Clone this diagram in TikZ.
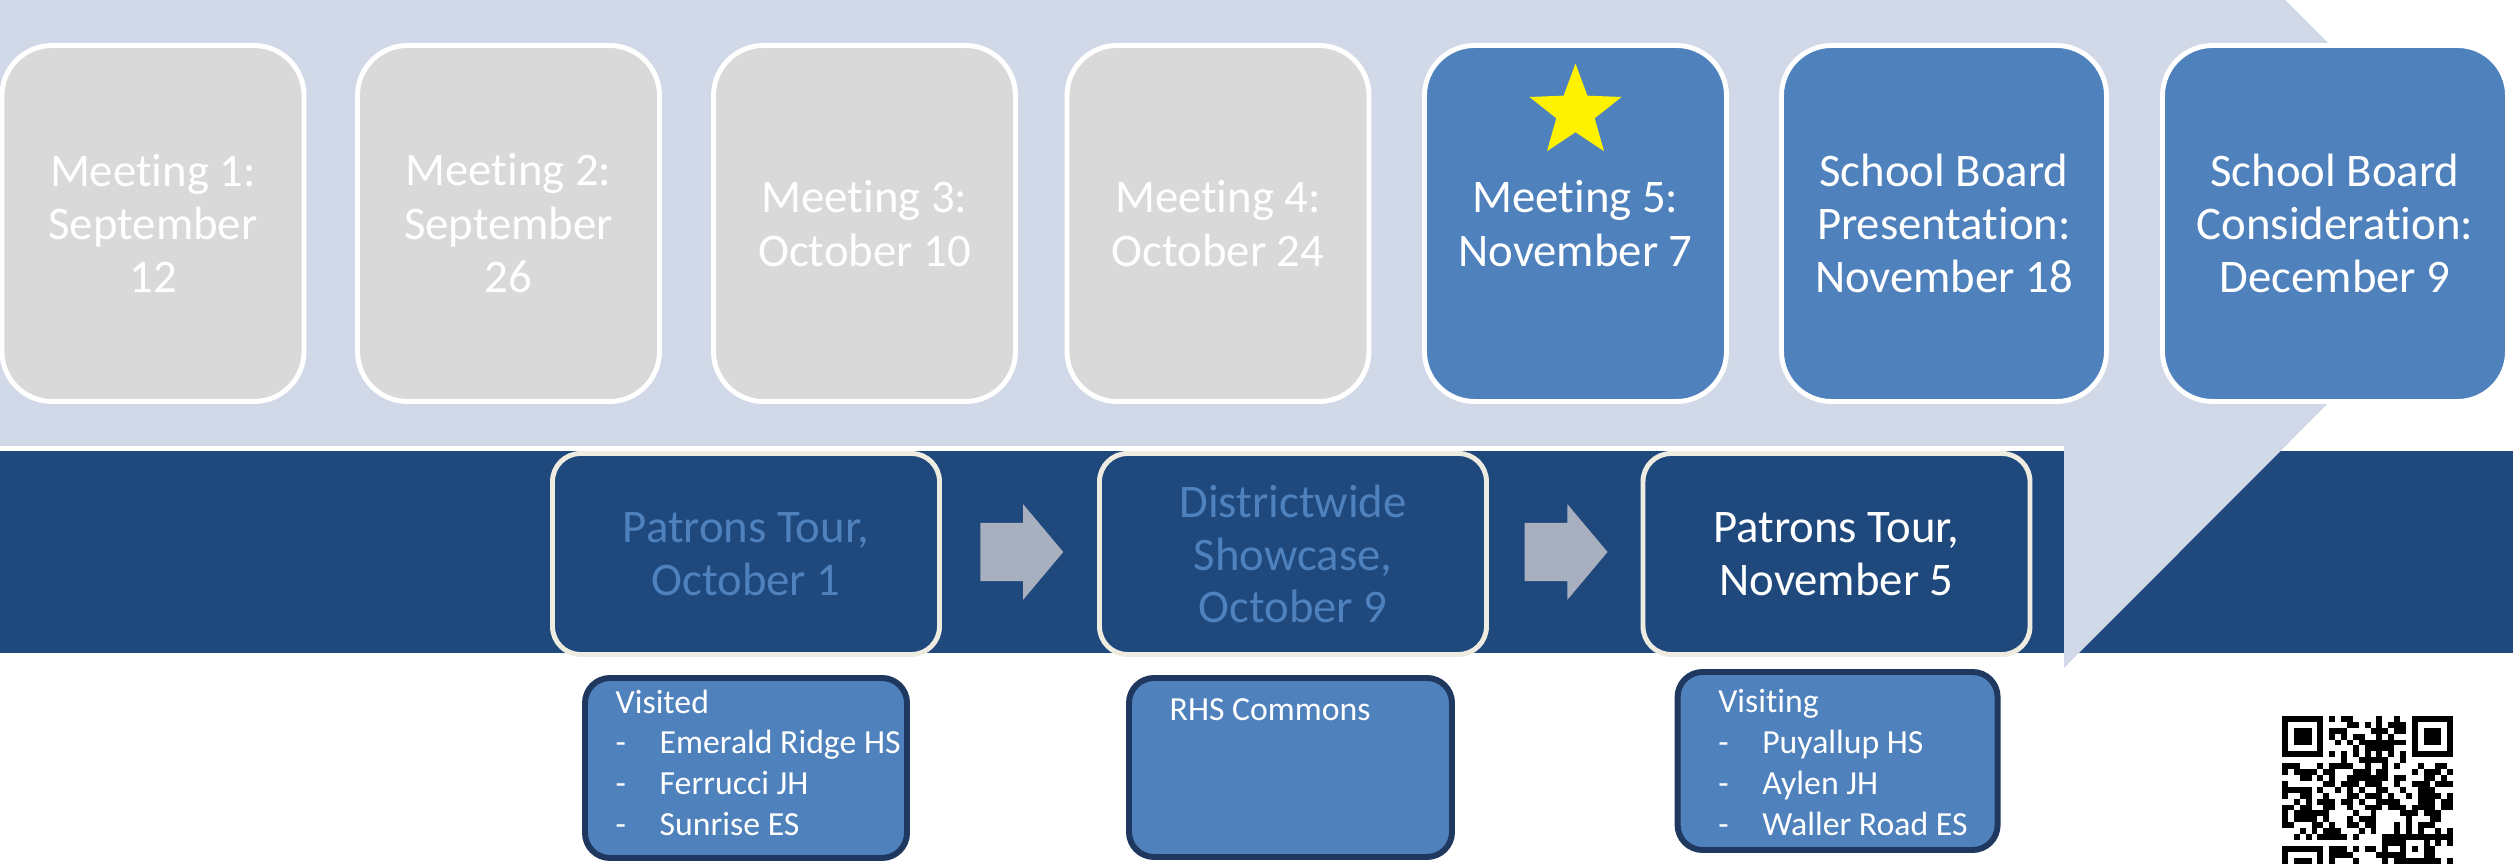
\documentclass[tikz,border=0pt]{standalone}
\usepackage{fontspec}
\setmainfont{Carlito}[Ligatures=NoCommon]
\usetikzlibrary{shapes.geometric,shapes.arrows,calc}

\definecolor{bandlight}{RGB}{209,217,232}
\definecolor{banddark}{RGB}{31,73,125}
\definecolor{boxgrey}{RGB}{217,217,217}
\definecolor{boxblue}{RGB}{79,129,189}
\definecolor{tourline}{RGB}{238,236,225}
\definecolor{noteline}{RGB}{31,56,95}
\definecolor{arrowgrey}{RGB}{168,175,191}

\begin{document}
\begin{tikzpicture}[
    meet/.style={rectangle, draw=white, line width=1.4pt, rounded corners=0.5cm,
                 minimum width=3.02cm, minimum height=3.56cm},
    meettext/.style={white, align=center, font=\fontsize{13.3}{15.2}\selectfont},
    tour/.style={rectangle, draw=tourline, line width=1.4pt, fill=banddark,
                 rounded corners=0.28cm, minimum width=3.87cm, minimum height=2.01cm},
    tourtext/.style={align=center, font=\fontsize{13.3}{15}\selectfont},
    note/.style={rectangle, draw=noteline, line width=1.7pt, fill=boxblue,
                 rounded corners=0.25cm, minimum width=3.22cm, minimum height=1.8cm},
    notetext/.style={anchor=north west, inner sep=0pt, white, align=left,
                     font=\fontsize{9.6}{11.6}\selectfont},
    stepper/.style={single arrow, fill=arrowgrey, inner xsep=0pt, inner ysep=0.285cm,
                    minimum height=0.83cm, single arrow head extend=0.185cm,
                    single arrow tip angle=100}]

    \useasboundingbox (0,0) rectangle (25.13,-8.64);

    % bands
    \fill[banddark] (0,-4.51) rectangle (25.13,-6.53);
    \fill[bandlight] (0,0) -- (22.85,0) -- (25.08,-2.23) -- (20.64,-6.68)
        -- (20.64,-4.46) -- (0,-4.46) -- cycle;

    % meetings
    \node[meet, fill=boxgrey] (m1) at (1.53,-2.235) {};
    \node[meettext] at (m1.center) {Meeting 1:\\September\\12};

    \node[meet, fill=boxgrey] (m2) at (5.085,-2.235) {};
    \node[meettext] at (m2.center) {Meeting 2:\\September\\26};

    \node[meet, fill=boxgrey] (m3) at (8.645,-2.235) {};
    \node[meettext] at (m3.center) {Meeting 3:\\October 10};

    \node[meet, fill=boxgrey] (m4) at (12.18,-2.235) {};
    \node[meettext] at (m4.center) {Meeting 4:\\October 24};

    \node[meet, fill=boxblue] (m5) at (15.755,-2.235) {};
    \node[meettext] at (m5.center) {Meeting 5:\\November 7};
    \node[star, star points=5, star point ratio=2.4, fill=yellow, inner sep=0pt,
          minimum size=0.97cm] (now) at (15.755,-1.12) {};

    \node[meet, fill=boxblue, minimum width=3.25cm] (board1) at (19.44,-2.235) {};
    \node[meettext] at (board1.center) {School Board\\Presentation:\\November 18};

    \node[meet, fill=boxblue, minimum width=3.45cm] (board2) at (23.35,-2.235) {};
    \node[meettext] at (board2.center) {School Board\\Consideration:\\December 9};

    % tours
    \node[tour] (tour1) at (7.46,-5.54) {};
    \node[tourtext, boxblue] at (tour1.center) {Patrons Tour,\\October 1};

    \node[tour] (show) at (12.93,-5.54) {};
    \node[tourtext, boxblue] at (show.center) {Districtwide\\Showcase,\\October 9};

    \node[tour] (tour2) at (18.365,-5.54) {};
    \node[tourtext, white] at (tour2.center) {Patrons Tour,\\November 5};

    \node[stepper] (s1) at ($(tour1.east)!0.5!(show.west)+(-0.1,0.02)$) {};
    \node[stepper] (s2) at ($(show.east)!0.5!(tour2.west)+(-0.11,0.02)$) {};

    % notes
    \node[note] (visited) at (7.46,-7.68) {};
    \node[notetext] at ([xshift=0.33cm,yshift=-0.14cm]visited.north west)
        {Visited\\\makebox[0.44cm][l]{-}Emerald Ridge HS\\
         \makebox[0.44cm][l]{-}Ferrucci JH\\\makebox[0.44cm][l]{-}Sunrise ES};

    \node[note, minimum width=3.23cm, minimum height=1.79cm] (rhs) at (12.905,-7.675) {};
    \node[notetext] at ([xshift=0.43cm,yshift=-0.23cm]rhs.north west) {RHS Commons};

    \node[note, minimum width=3.2cm, minimum height=1.78cm] (visiting) at (18.376,-7.61) {};
    \node[notetext] at ([xshift=0.43cm,yshift=-0.2cm]visiting.north west)
        {Visiting\\\makebox[0.44cm][l]{-}Puyallup HS\\
         \makebox[0.44cm][l]{-}Aylen JH\\\makebox[0.44cm][l]{-}Waller Road ES};

    % qr code
    \begin{scope}[shift={(22.82,-7.16)}, x=0.059cm, y=-0.059cm]
        \foreach \fx/\fy in {0/0, 22/0, 0/22} {
            \fill (\fx,\fy) rectangle ++(7,7);
            \fill[white] (\fx+1,\fy+1) rectangle ++(5,5);
            \fill (\fx+2,\fy+2) rectangle ++(3,3);
        }
        \fill (20,20) rectangle ++(5,5);
        \fill[white] (21,21) rectangle ++(3,3);
        \fill (22,22) rectangle ++(1,1);
        \foreach \k in {8,10,...,20} {
            \fill (\k,6) rectangle ++(1,1);
            \fill (6,\k) rectangle ++(1,1);
        }
        \pgfmathsetseed{864}
        \foreach \r in {0,...,28} {
            \foreach \c in {0,...,28} {
                \pgfmathtruncatemacro{\skipit}{(\r<8 && \c<8) || (\r<8 && \c>20) || (\r>20 && \c<8)
                    || (\r>19 && \r<25 && \c>19 && \c<25) || \r==6 || \c==6}
                \pgfmathtruncatemacro{\dark}{rnd<0.5}
                \ifnum\skipit=0 \ifnum\dark=1 \fill (\c,\r) rectangle ++(1,1); \fi\fi
            }
        }
    \end{scope}

\end{tikzpicture}
\end{document}
